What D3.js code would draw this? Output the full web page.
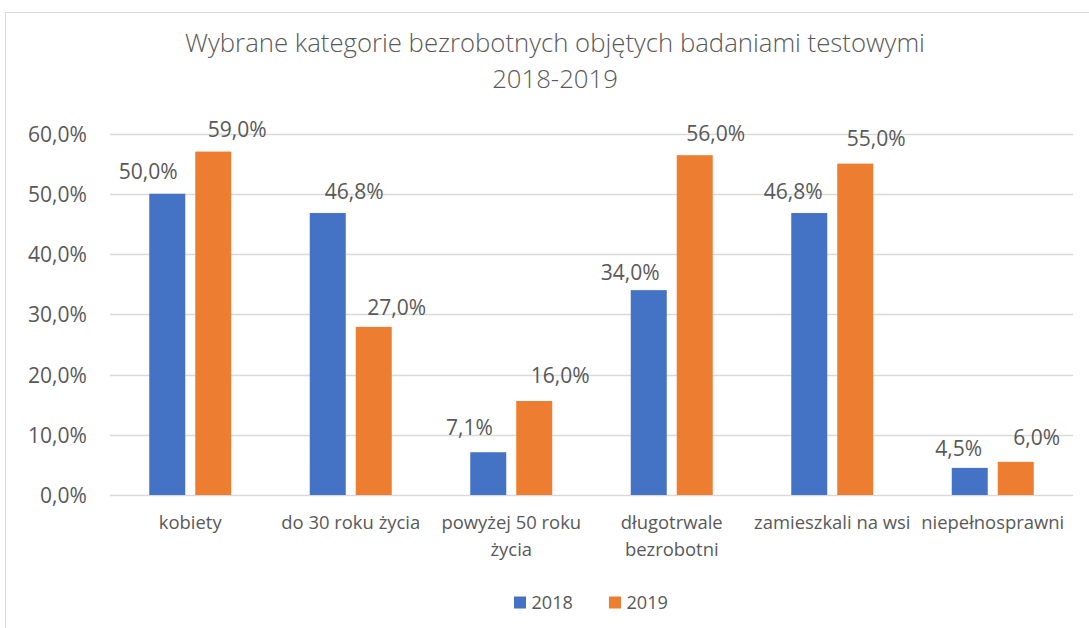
<!DOCTYPE html>
<html><head><meta charset="utf-8">
<script src="https://cdn.jsdelivr.net/npm/d3@7/dist/d3.min.js"></script>
<style>body{margin:0;background:#fff}svg{display:block}text{font-family:"Open Sans",sans-serif;fill:#595959}</style>
</head><body><svg id="c" width="1089" height="628"></svg>
<script>
const titleLines = ["Wybrane kategorie bezrobotnych objętych badaniami testowymi", "2018-2019"];
const categories = [["kobiety"], ["do 30 roku życia"], ["powyżej 50 roku", "życia"], ["długotrwale", "bezrobotni"], ["zamieszkali na wsi"], ["niepełnosprawni"]];
const seriesNames = ["2018", "2019"];
const values2018 = [50.0, 46.8, 7.1, 34.0, 46.8, 4.5];
const values2019 = [57.0, 27.9, 15.6, 56.4, 55.0, 5.5];
const labels2018 = ["50,0%", "46,8%", "7,1%", "34,0%", "46,8%", "4,5%"];
const labels2019 = ["59,0%", "27,0%", "16,0%", "56,0%", "55,0%", "6,0%"];
const yTicks = [0, 10, 20, 30, 40, 50, 60];
const colors = ["#4472C4", "#ED7D31"];

// layout: manual data-label placement (offset of label centre from bar top-centre, px)
const labelShift = [
  {dx: [-19, 26.5, -18.7, -18.5, -16, -11], dy: [22.3, 22, 25, 17.4, 22, 19.7]},
  {dx: [24, 23, 26, 21, 21, 21], dy: [22, 19, 25.7, 22, 25, 24.7]}
];

const svg = d3.select("#c");

function fitSize(str, target, weight) {
  const t = svg.append("text").style("font-size", "100px").style("font-weight", weight || 400).text(str);
  const w = t.node().getComputedTextLength();
  t.remove();
  return 100 * target / w;
}
const titleSize = fitSize(titleLines[0], 740, 300);
const valueSize = fitSize("46,8%", 59);
const tickSize = fitSize("60,0%", 59);
const catSize = fitSize("do 30 roku życia", 139);
const legSize = fitSize("2018", 41.5);

svg.append("rect").attr("x", 5.5).attr("y", 12.5).attr("width", 1200).attr("height", 800)
  .attr("fill", "none").attr("stroke", "#d9d9d9");

const L = 110, R = 1073, T = 133.5, B = 495;
const x0 = d3.scaleBand().domain(d3.range(categories.length)).range([L, R]).padding(0);
const y = d3.scaleLinear().domain([0, 60]).range([B, T]);
const x1 = d3.scaleBand().domain(seriesNames).range([x0.bandwidth()/2 - 41, x0.bandwidth()/2 + 41]).paddingInner(0.2174);

// gridlines
svg.append("g").selectAll("line").data(yTicks).join("line")
  .attr("x1", L).attr("x2", R).attr("y1", d => Math.round(y(d)) + 0.5).attr("y2", d => Math.round(y(d)) + 0.5)
  .attr("stroke", "#d9d9d9").attr("stroke-width", 1.5);

// y axis labels
const yAxis = d3.axisLeft(y).tickValues(yTicks).tickSize(0).tickPadding(0)
  .tickFormat(d => d.toFixed(1).replace(".", ",") + "%");
const ga = svg.append("g").attr("transform", `translate(87,0)`).call(yAxis);
ga.select(".domain").remove();
ga.selectAll("text").style("font-size", tickSize + "px").attr("fill", "#595959")
  .style("font-family", "Open Sans").attr("dy", "0.36em");

// title
const lineGap = titleSize * 1.4;
svg.append("g").selectAll("text").data(titleLines).join("text")
  .attr("x", 555).attr("y", (d, i) => 52 + i * lineGap).attr("text-anchor", "middle")
  .style("font-size", titleSize + "px").style("font-weight", 300).text(d => d);

const series = [values2018, values2019];
const labels = [labels2018, labels2019];
series.forEach((vals, si) => {
  const g = svg.append("g");
  g.selectAll("rect").data(vals).join("rect")
    .attr("x", (d, i) => x0(i) + x1(seriesNames[si]))
    .attr("width", x1.bandwidth())
    .attr("y", d => y(d)).attr("height", d => y(0) - y(d))
    .attr("fill", colors[si]);
  g.selectAll("text").data(vals).join("text")
    .attr("x", (d, i) => x0(i) + x1(seriesNames[si]) + x1.bandwidth()/2 + labelShift[si].dx[i])
    .attr("y", (d, i) => y(d) - labelShift[si].dy[i] + 7.5)
    .attr("text-anchor", "middle").style("font-size", valueSize + "px")
    .text((d, i) => labels[si][i]);
});

// category labels
const cg = svg.append("g");
categories.forEach((lines, i) => {
  cg.append("text").attr("x", x0(i) + x0.bandwidth()/2).attr("y", 529).attr("text-anchor", "middle")
    .style("font-size", catSize + "px")
    .selectAll("tspan").data(lines).join("tspan")
    .attr("x", x0(i) + x0.bandwidth()/2).attr("dy", (d, j) => j === 0 ? 0 : 27).text(d => d);
});

// legend
const lg = svg.append("g");
const legendX = [514, 609];
seriesNames.forEach((s, i) => {
  lg.append("rect").attr("x", legendX[i]).attr("y", 596.5).attr("width", 12).attr("height", 12).attr("fill", colors[i]);
  lg.append("text").attr("x", legendX[i] + 17.5).attr("y", 609).style("font-size", legSize + "px").text(s);
});
</script></body></html>
